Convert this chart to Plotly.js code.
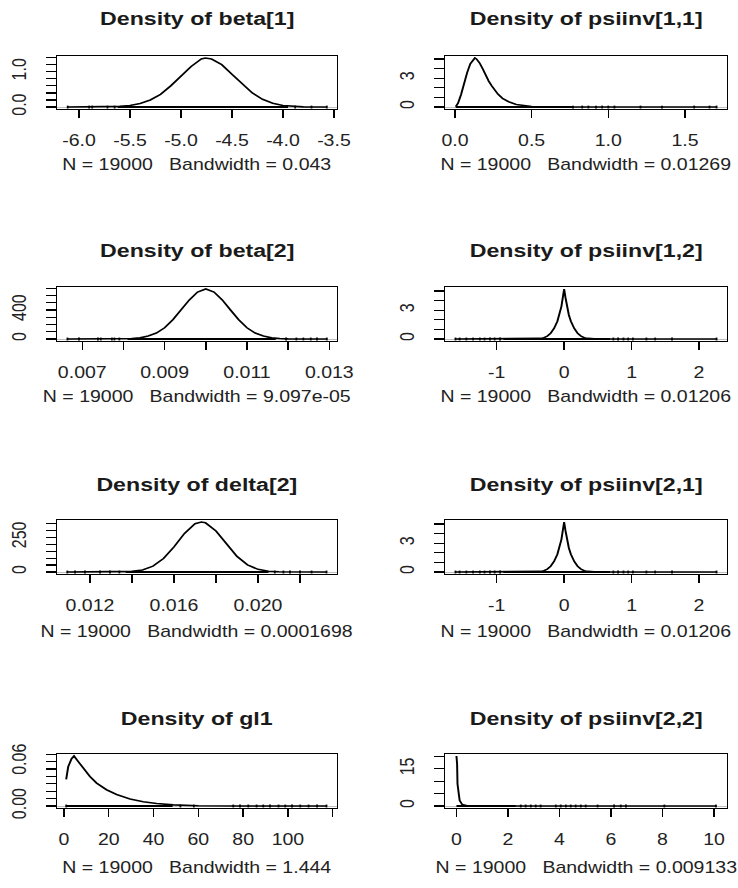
<!DOCTYPE html>
<html><head><meta charset="utf-8">
<script src="https://cdn.plot.ly/plotly-3.0.1.min.js"></script>
<style>
html,body{margin:0;padding:0;background:#fff;overflow:hidden;}
#wrap{width:738px;height:888px;overflow:hidden;}
#plot{width:605px;height:888px;transform-origin:0 0;transform:scaleX(1.2198);}
</style></head><body><div id="wrap"><div id="plot"></div></div>
<script>
// ---------- data ----------
const titles = ['Density of beta[1]','Density of psiinv[1,1]','Density of beta[2]','Density of psiinv[1,2]',
                'Density of delta[2]','Density of psiinv[2,1]','Density of gl1','Density of psiinv[2,2]'];
const bandwidths = ['0.043','0.01269','9.097e-05','0.01206','0.0001698','0.01206','1.444','0.009133'];
const nIter = 19000;

const beta1_x = [-6.11,-5.8,-5.6,-5.5,-5.4,-5.3,-5.2,-5.1,-5.0,-4.9,-4.8,-4.76,-4.7,-4.6,-4.5,-4.4,-4.3,-4.2,-4.1,-4.0,-3.9,-3.8,-3.57];
const beta1_y = [0,0.003,0.018,0.045,0.10,0.20,0.36,0.60,0.87,1.15,1.36,1.39,1.36,1.20,0.93,0.65,0.40,0.22,0.11,0.045,0.015,0.004,0];
const beta1_obs = [-6.11,-5.9,-5.87,-5.72,-5.65,-3.88,-3.72,-3.57];
const beta1_band = [-5.62,-3.95];

const psi11_x = [0.005,0.02,0.04,0.06,0.08,0.10,0.12,0.13,0.14,0.16,0.18,0.20,0.22,0.24,0.26,0.28,0.31,0.35,0.40,0.45,0.50,0.6,0.8,1.0,1.3,1.706];
const psi11_y = [0.05,0.4,1.3,2.5,3.6,4.5,5.0,5.1,5.0,4.6,4.0,3.3,2.7,2.2,1.75,1.35,0.9,0.55,0.27,0.12,0.05,0.015,0.004,0.002,0.001,0];
const psi11_obs = [0.77,0.83,0.87,0.92,0.96,1.0,1.04,1.21,1.35,1.56,1.66,1.706];
const psi11_band = [0.005,0.77];

const beta2_x = [0.00664,0.0080,0.0082,0.0084,0.0086,0.0088,0.0090,0.0092,0.0094,0.0096,0.0098,0.0100,0.0102,0.0104,0.0106,0.0108,0.0110,0.0112,0.0114,0.0116,0.0118,0.0120,0.01294];
const beta2_y = [0,2,6,16,40,82,155,265,400,540,648,690,648,540,400,265,155,82,40,16,6,2,0];
const beta2_obs = [0.00664,0.00692,0.00738,0.00745,0.00772,0.00778,0.0079,0.01195,0.0122,0.01237,0.01255,0.0127,0.01294];
const beta2_band = [0.0081,0.0117];

const psi12_x = [-1.612,-0.6,-0.45,-0.35,-0.3,-0.25,-0.2,-0.15,-0.1,-0.07,-0.04,-0.02,0,0.02,0.04,0.07,0.1,0.15,0.2,0.25,0.3,0.35,0.45,0.6,2.26];
const psi12_y = [0,0.004,0.015,0.06,0.14,0.3,0.6,1.1,1.85,2.5,3.4,4.3,5.2,4.3,3.4,2.5,1.85,1.1,0.6,0.3,0.14,0.06,0.015,0.004,0];
const psi12_obs = [-1.612,-1.55,-1.45,-1.35,-1.25,-1.18,-1.1,-1.03,-0.95,0.73,0.8,0.88,0.95,1.02,1.22,1.35,1.6,2.26];
const psi12_band = [-0.9,0.68];

const delta2_x = [0.01092,0.0130,0.0135,0.0140,0.0145,0.0150,0.0155,0.0160,0.0165,0.0170,0.0173,0.0175,0.0180,0.0185,0.0190,0.0195,0.0200,0.0205,0.0210,0.02326];
const delta2_y = [0,0.2,1.0,4.4,15,42,97,181,278,347,360,354,295,201,112,51,19,5.7,1.4,0];
const delta2_obs = [0.01092,0.01129,0.01176,0.01248,0.01295,0.0134,0.0208,0.02121,0.02152,0.0220,0.02255,0.02326];
const delta2_band = [0.0137,0.0205];

const psi21_x = [-1.612,-0.6,-0.45,-0.35,-0.3,-0.25,-0.2,-0.15,-0.1,-0.07,-0.04,-0.02,0,0.02,0.04,0.07,0.1,0.15,0.2,0.25,0.3,0.35,0.45,0.6,2.26];
const psi21_y = [0,0.004,0.015,0.06,0.14,0.3,0.6,1.1,1.85,2.5,3.4,4.3,5.2,4.3,3.4,2.5,1.85,1.1,0.6,0.3,0.14,0.06,0.015,0.004,0];
const psi21_obs = [-1.612,-1.55,-1.45,-1.35,-1.25,-1.18,-1.1,-1.03,-0.95,0.73,0.8,0.88,0.95,1.02,1.22,1.35,1.6,2.26];
const psi21_band = [-0.9,0.68];

const gl1_x = [1.0,1.9,3.4,4.5,6.4,8.6,11.6,14.6,19,23.5,29.5,35.4,41.4,48.8,60,80,117.2];
const gl1_y = [0.036,0.053,0.064,0.0676,0.060,0.051,0.040,0.031,0.022,0.0156,0.0095,0.0058,0.0034,0.0015,0.0004,0.0001,0];
const gl1_obs = [1.0,52,58,75.6,78.6,82.3,86,89,92,95.8,98.8,101.8,105.5,109.2,113,117.2];
const gl1_band = [1.0,48.5];

const psi22_x = [0.005,0.03,0.045,0.06,0.08,0.10,0.13,0.17,0.22,0.3,0.4,0.6,1.0,2.0,3.0,5.0,10.1];
const psi22_y = [20.2,17,9,6.8,6.2,4.5,2.2,1.2,0.7,0.35,0.15,0.06,0.02,0.008,0.003,0.001,0];
const psi22_obs = [2.5,2.69,2.89,3.08,3.27,3.86,4.05,4.25,4.44,4.63,4.83,5.02,5.48,6.12,6.38,6.58,8.07,10.07];
const psi22_band = [0.005,2.3];

// tick values / labels
const beta1_xt = [-6,-5.5,-5,-4.5,-4,-3.5], beta1_xl = ['-6.0','-5.5','-5.0','-4.5','-4.0','-3.5'];
const beta1_yt = [0,0.2,0.4,0.6,0.8,1.0,1.2,1.4], beta1_yl = ['0.0','','','','','1.0','',''];
const psi11_xt = [0,0.5,1,1.5], psi11_xl = ['0.0','0.5','1.0','1.5'];
const psi11_yt = [0,1,2,3,4,5], psi11_yl = ['0','','','3','',''];
const beta2_xt = [0.007,0.008,0.009,0.010,0.011,0.012,0.013], beta2_xl = ['0.007','','0.009','','0.011','','0.013'];
const beta2_yt = [0,100,200,300,400,500,600,700], beta2_yl = ['0','','','','400','','',''];
const psi12_xt = [-1,0,1,2], psi12_xl = ['-1','0','1','2'];
const psi12_yt = [0,1,2,3,4,5], psi12_yl = ['0','','','3','',''];
const delta2_xt = [0.012,0.014,0.016,0.018,0.020,0.022], delta2_xl = ['0.012','','0.016','','0.020',''];
const delta2_yt = [0,50,100,150,200,250,300,350], delta2_yl = ['0','','','','','250','',''];
const psi21_xt = [-1,0,1,2], psi21_xl = ['-1','0','1','2'];
const psi21_yt = [0,1,2,3,4,5], psi21_yl = ['0','','','3','',''];
const gl1_xt = [0,20,40,60,80,100,120], gl1_xl = ['0','20','40','60','80','100',''];
const gl1_yt = [0,0.01,0.02,0.03,0.04,0.05,0.06,0.07], gl1_yl = ['0.00','','','','','','0.06',''];
const psi22_xt = [0,2,4,6,8,10], psi22_xl = ['0','2','4','6','8','10'];
const psi22_yt = [0,5,10,15,20], psi22_yl = ['0','','','15',''];

// ---------- layout config ----------
const W = 738, H = 888;
const FONT = 'Liberation Sans, Arial, sans-serif';
const colBox = [[57,337],[445,727]];
const rowBox = [[56,109],[287,341],[520,574],[754,808]];
const titleY = [19,250,484,718];
const noteY = [164,397,631,867];
const xRanges = [[-6.215,-3.47],[-0.065,1.774],[0.006386,0.013187],[-1.767,2.415],
                 [0.01043,0.02376],[-1.767,2.415],[-3.1,121.9],[-0.44,10.5]];

const P = [
  [beta1_x,beta1_y,beta1_obs,beta1_band,beta1_xt,beta1_xl,beta1_yt,beta1_yl],
  [psi11_x,psi11_y,psi11_obs,psi11_band,psi11_xt,psi11_xl,psi11_yt,psi11_yl],
  [beta2_x,beta2_y,beta2_obs,beta2_band,beta2_xt,beta2_xl,beta2_yt,beta2_yl],
  [psi12_x,psi12_y,psi12_obs,psi12_band,psi12_xt,psi12_xl,psi12_yt,psi12_yl],
  [delta2_x,delta2_y,delta2_obs,delta2_band,delta2_xt,delta2_xl,delta2_yt,delta2_yl],
  [psi21_x,psi21_y,psi21_obs,psi21_band,psi21_xt,psi21_xl,psi21_yt,psi21_yl],
  [gl1_x,gl1_y,gl1_obs,gl1_band,gl1_xt,gl1_xl,gl1_yt,gl1_yl],
  [psi22_x,psi22_y,psi22_obs,psi22_band,psi22_xt,psi22_xl,psi22_yt,psi22_yl]
];

const traces = [];
const layout = {
  width: 605, height: H, margin:{l:0,r:0,t:0,b:0},
  paper_bgcolor:'#fff', plot_bgcolor:'#fff', showlegend:false,
  font:{family:FONT, color:'#222', size:16},
  annotations: []
};

P.forEach((p, i) => {
  const [xs, ys, obs, band, xt, xl, yt, yl] = p;
  const r = Math.floor(i/2), c = i % 2;
  const sfx = i === 0 ? '' : String(i+1);
  const xa = 'x'+sfx, ya = 'y'+sfx;
  const M = Math.max(...ys);
  const xd = [colBox[c][0]/W, colBox[c][1]/W];
  const yd = [1 - rowBox[r][1]/H, 1 - rowBox[r][0]/H];

  traces.push({x:[band[0],band[1]], y:[0,0], xaxis:xa, yaxis:ya, mode:'lines',
               line:{color:'#000', width:2}, hoverinfo:'skip'});
  traces.push({x:obs, y:obs.map(()=>0), xaxis:xa, yaxis:ya, mode:'markers',
               marker:{symbol:'line-ns', size:2, line:{color:'#000', width:1.5}}, hoverinfo:'skip'});
  traces.push({x:xs, y:ys, xaxis:xa, yaxis:ya, mode:'lines',
               line:{color:'#000', width:1.6}});

  layout['xaxis'+sfx] = {domain:xd, range:xRanges[i], anchor:ya, showgrid:false, zeroline:false,
    showline:true, mirror:true, linecolor:'#000', linewidth:1.2,
    ticks:'outside', ticklen:8, tickwidth:1.2, tickcolor:'#000',
    tickmode:'array', tickvals:xt, ticktext:xl, tickangle:0, ticklabelstandoff:9,
    tickfont:{family:FONT, size:16, color:'#222'}};
  layout['yaxis'+sfx] = {domain:yd, range:[-0.04*M, 1.04*M], anchor:xa, showgrid:false,
    zeroline:true, zerolinecolor:'#bebebe', zerolinewidth:1,
    showline:true, mirror:true, linecolor:'#000', linewidth:1.2,
    ticks:'outside', ticklen:8, tickwidth:1.2, tickcolor:'#000',
    tickmode:'array', tickvals:yt, ticktext:yl, tickangle:-90, ticklabelstandoff:10,
    tickfont:{family:FONT, size:16, color:'#222'}};

  const xc = (xd[0]+xd[1])/2;
  layout.annotations.push({xref:'paper', yref:'paper', x:xc, y:1-titleY[r]/H, xanchor:'center', yanchor:'middle',
    text:'<b>'+titles[i]+'</b>', showarrow:false, font:{family:FONT, size:19, color:'#1a1a1a'}});
  layout.annotations.push({xref:'paper', yref:'paper', x:xc, y:1-noteY[r]/H, xanchor:'center', yanchor:'middle',
    text:'N = '+nIter+'\u00a0\u00a0 Bandwidth = '+bandwidths[i], showarrow:false,
    font:{family:FONT, size:16, color:'#222'}});
});

Plotly.newPlot('plot', traces, layout, {staticPlot:true, displayModeBar:false});
</script></body></html>
